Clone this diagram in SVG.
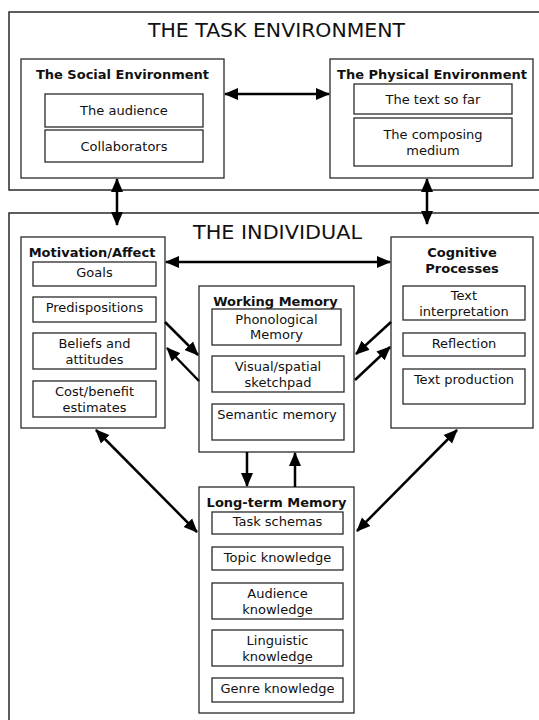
<svg xmlns="http://www.w3.org/2000/svg" width="539" height="720" viewBox="0 0 539 720">
<style>
  .box { fill: #fff; stroke: #2a2a2a; stroke-width: 1.3; }
  .outer { fill: none; stroke: #2a2a2a; stroke-width: 1.5; }
  .t { font-family: "DejaVu Sans", Verdana, sans-serif; font-size: 13px; fill: #111; text-anchor: middle; }
  .h { font-family: "DejaVu Sans", Verdana, sans-serif; font-size: 13px; font-weight: bold; fill: #111; text-anchor: middle; }
  .big { font-family: "DejaVu Sans", Verdana, sans-serif; font-size: 19px; fill: #111; text-anchor: middle; }
  .c { stroke: #000; stroke-width: 2.5; fill: none; }
</style>
<defs>
  <marker id="ah" markerUnits="userSpaceOnUse" markerWidth="15" markerHeight="13" refX="13" refY="6" orient="auto-start-reverse" viewBox="0 0 15 12">
    <path d="M0,0 L14,6 L0,12 z" fill="#000"/>
  </marker>
</defs>

<rect fill="#fff" x="0" y="0" width="539" height="720"/>

<g id="task-environment">
  <rect class="outer" x="9" y="12" width="545" height="178"/>
  <text class="big" x="276.5" y="37" textLength="257" lengthAdjust="spacingAndGlyphs">THE TASK ENVIRONMENT</text>
</g>

<g id="social-environment">
  <rect class="box" x="21" y="59" width="203" height="119"/>
  <text class="h" x="122.5" y="79">The Social Environment</text>
  <rect class="box" x="45" y="94" width="158" height="33"/>
  <text class="t" x="124" y="115">The audience</text>
  <rect class="box" x="45" y="130" width="158" height="32"/>
  <text class="t" x="124" y="151">Collaborators</text>
</g>

<g id="physical-environment">
  <rect class="box" x="330" y="59" width="203" height="119"/>
  <text class="h" x="432" y="79">The Physical Environment</text>
  <rect class="box" x="354" y="84" width="158" height="30"/>
  <text class="t" x="433" y="104">The text so far</text>
  <rect class="box" x="354" y="118" width="158" height="48"/>
  <text class="t" x="433" y="139">The composing</text>
  <text class="t" x="433" y="155">medium</text>
</g>

<g id="individual">
  <rect class="outer" x="9" y="213" width="545" height="520"/>
  <text class="big" x="277.5" y="239" textLength="169" lengthAdjust="spacingAndGlyphs">THE INDIVIDUAL</text>
</g>

<g id="motivation-affect">
  <rect class="box" x="21" y="237" width="144" height="191"/>
  <text class="h" x="92" y="257">Motivation/Affect</text>
  <rect class="box" x="33" y="262" width="123" height="24"/>
  <text class="t" x="94.5" y="277">Goals</text>
  <rect class="box" x="33" y="297" width="123" height="25"/>
  <text class="t" x="94.5" y="312">Predispositions</text>
  <rect class="box" x="33" y="333" width="123" height="36"/>
  <text class="t" x="94.5" y="348">Beliefs and</text>
  <text class="t" x="94.5" y="364">attitudes</text>
  <rect class="box" x="33" y="381" width="123" height="36"/>
  <text class="t" x="94.5" y="396">Cost/benefit</text>
  <text class="t" x="94.5" y="412">estimates</text>
</g>

<g id="cognitive-processes">
  <rect class="box" x="391" y="237" width="142" height="191"/>
  <text class="h" x="462" y="257">Cognitive</text>
  <text class="h" x="462" y="273">Processes</text>
  <rect class="box" x="403" y="286" width="122" height="34"/>
  <text class="t" x="464" y="300">Text</text>
  <text class="t" x="464" y="316">interpretation</text>
  <rect class="box" x="403" y="333" width="122" height="23"/>
  <text class="t" x="464" y="348">Reflection</text>
  <rect class="box" x="403" y="369" width="122" height="35"/>
  <text class="t" x="464" y="384">Text production</text>
</g>

<g id="working-memory">
  <rect class="box" x="199" y="286" width="155" height="166"/>
  <text class="h" x="275.5" y="306">Working Memory</text>
  <rect class="box" x="212" y="309" width="129" height="36"/>
  <text class="t" x="276.5" y="324">Phonological</text>
  <text class="t" x="276.5" y="339">Memory</text>
  <rect class="box" x="212" y="356" width="132" height="36"/>
  <text class="t" x="278" y="371">Visual/spatial</text>
  <text class="t" x="278" y="387">sketchpad</text>
  <rect class="box" x="212" y="404" width="132" height="36"/>
  <text class="t" x="277" y="419">Semantic memory</text>
</g>

<g id="long-term-memory">
  <rect class="box" x="199" y="487" width="155" height="226"/>
  <text class="h" x="276.5" y="507">Long-term Memory</text>
  <rect class="box" x="212" y="512" width="131" height="22"/>
  <text class="t" x="277.5" y="526">Task schemas</text>
  <rect class="box" x="212" y="547" width="131" height="23"/>
  <text class="t" x="277.5" y="562">Topic knowledge</text>
  <rect class="box" x="212" y="583" width="131" height="36"/>
  <text class="t" x="277.5" y="598">Audience</text>
  <text class="t" x="277.5" y="614">knowledge</text>
  <rect class="box" x="212" y="630" width="131" height="36"/>
  <text class="t" x="277.5" y="645">Linguistic</text>
  <text class="t" x="277.5" y="661">knowledge</text>
  <rect class="box" x="212" y="678" width="131" height="24"/>
  <text class="t" x="277.5" y="693">Genre knowledge</text>
</g>

<g id="connectors">
  <line class="c" x1="225" y1="94" x2="329" y2="94" marker-start="url(#ah)" marker-end="url(#ah)"/>
  <line class="c" x1="117" y1="179" x2="117" y2="225" marker-start="url(#ah)" marker-end="url(#ah)"/>
  <line class="c" x1="427" y1="179" x2="427" y2="224" marker-start="url(#ah)" marker-end="url(#ah)"/>
  <line class="c" x1="166" y1="262" x2="390" y2="262" marker-start="url(#ah)" marker-end="url(#ah)"/>
  <line class="c" x1="165" y1="322" x2="198" y2="355" marker-end="url(#ah)"/>
  <line class="c" x1="199" y1="381" x2="167" y2="348" marker-end="url(#ah)"/>
  <line class="c" x1="391" y1="322" x2="356" y2="354" marker-end="url(#ah)"/>
  <line class="c" x1="355" y1="380" x2="390" y2="347" marker-end="url(#ah)"/>
  <line class="c" x1="247" y1="452" x2="247" y2="486" marker-end="url(#ah)"/>
  <line class="c" x1="295" y1="487" x2="295" y2="453" marker-end="url(#ah)"/>
  <line class="c" x1="96" y1="430" x2="197" y2="532" marker-start="url(#ah)" marker-end="url(#ah)"/>
  <line class="c" x1="457" y1="430" x2="357" y2="531" marker-start="url(#ah)" marker-end="url(#ah)"/>
</g>
</svg>
